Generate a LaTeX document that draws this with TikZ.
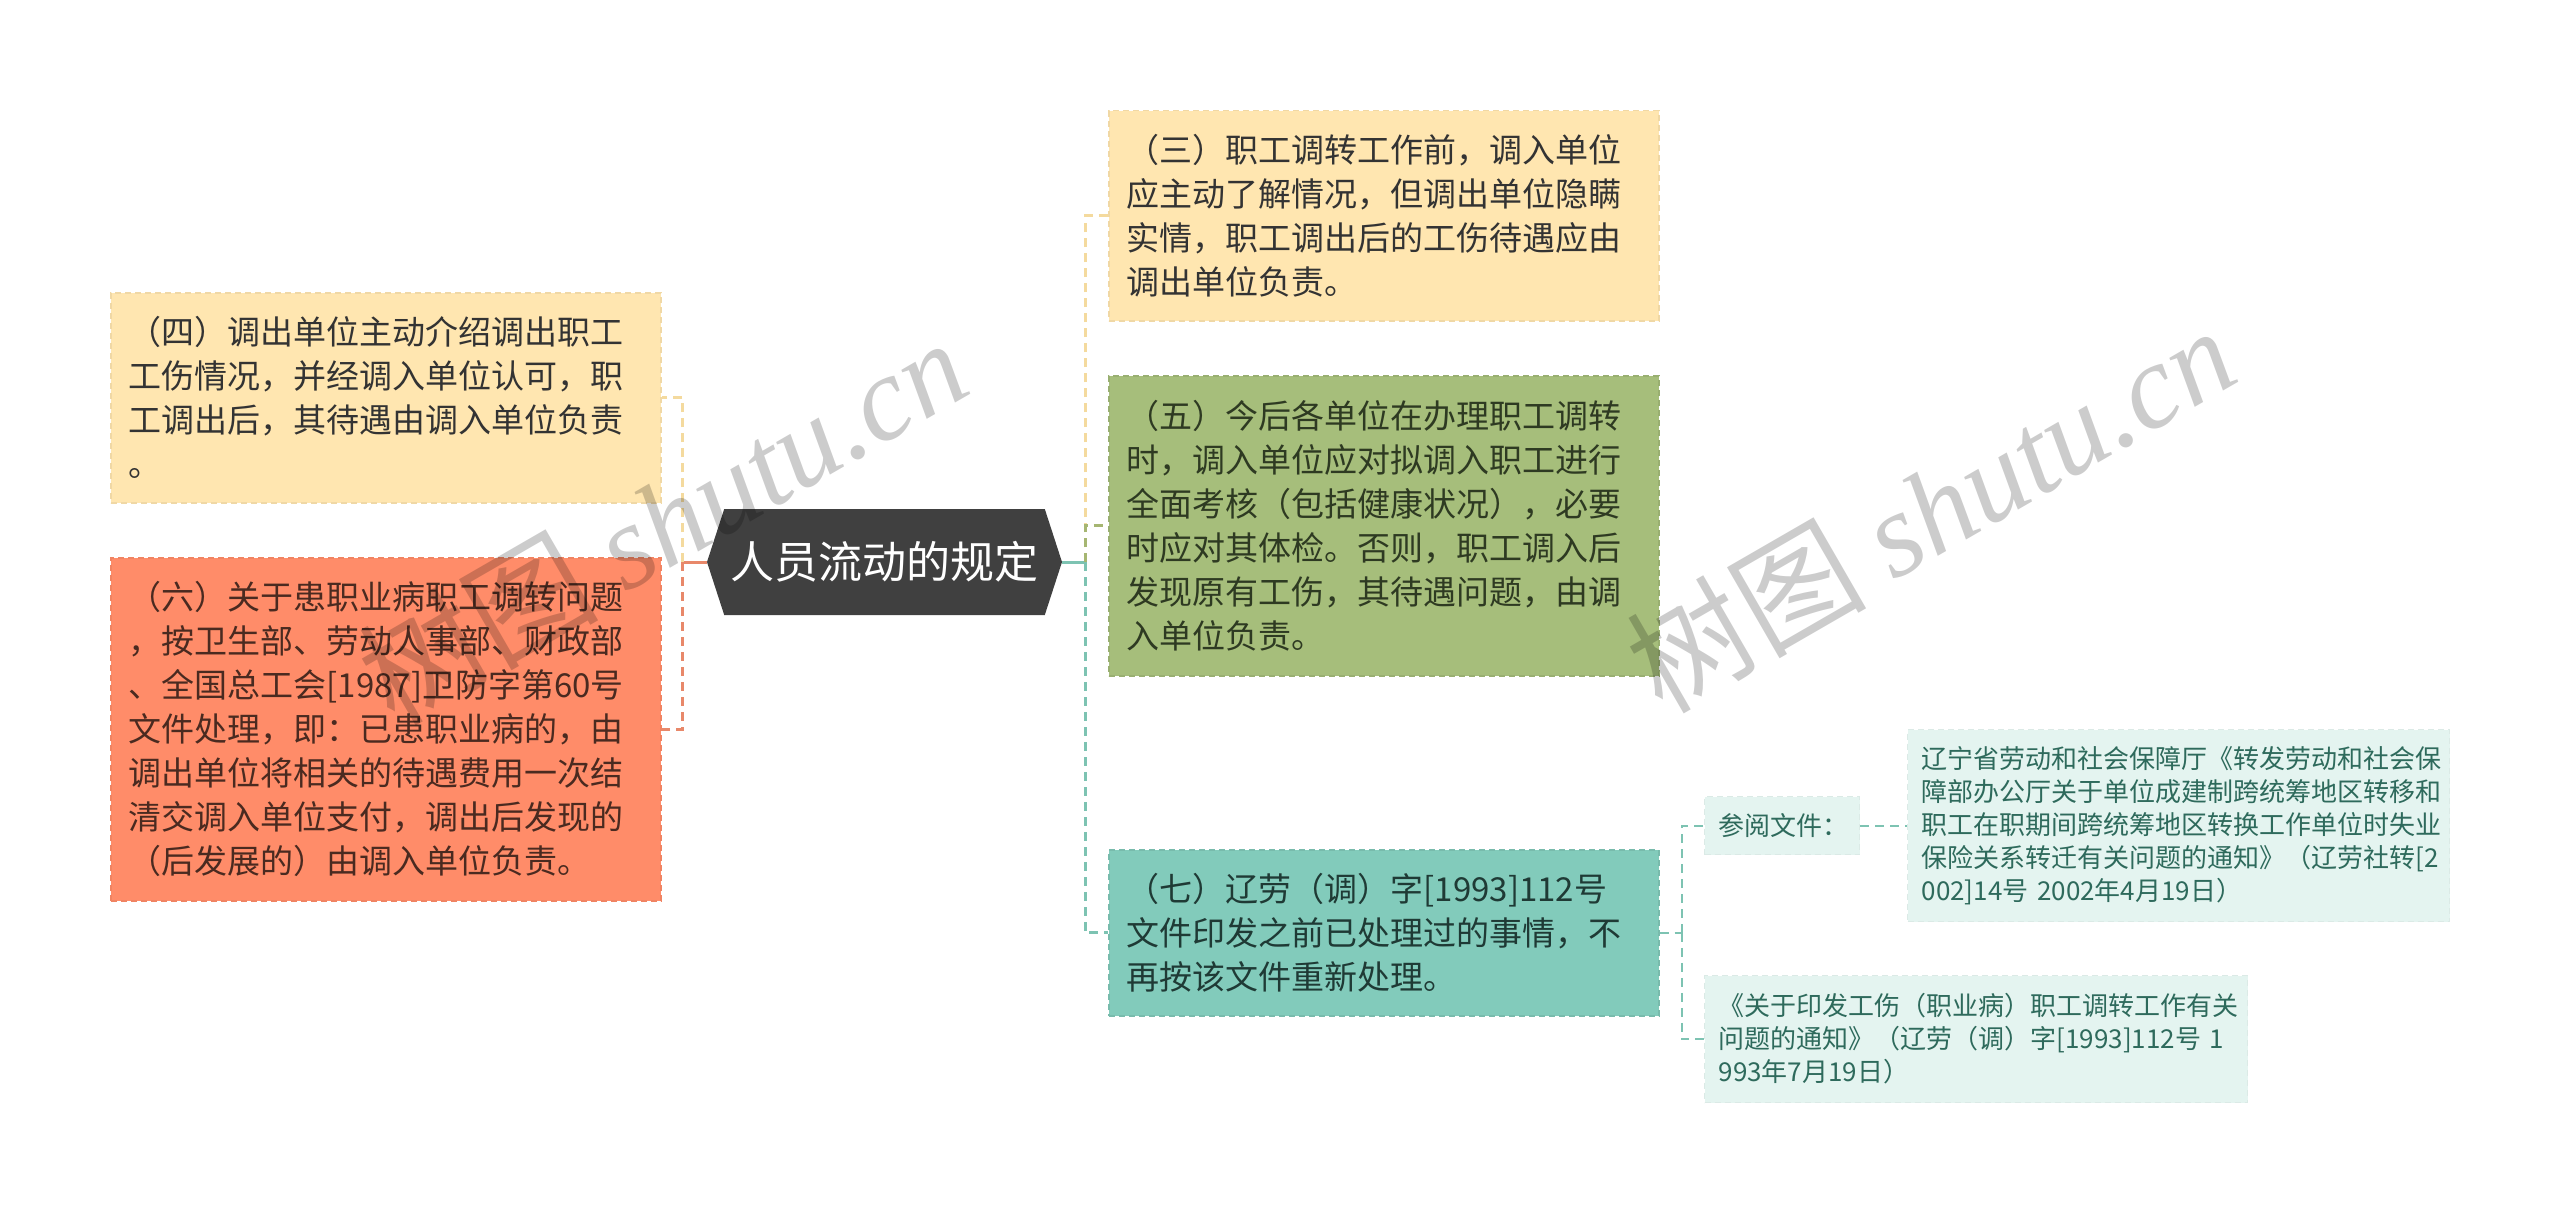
\documentclass[tikz,border=0pt]{standalone}
\usepackage{fontspec}
\setmainfont{Noto Sans CJK SC}
\newfontfamily\wmlatin{Liberation Serif}
\newfontfamily\wmcjk{Noto Sans CJK SC}
\usetikzlibrary{shapes.symbols}
\definecolor{yfill}{HTML}{FFE6B0}
\definecolor{yline}{HTML}{F4DA9E}
\definecolor{ofill}{HTML}{FF8C69}
\definecolor{oline}{HTML}{E8886A}
\definecolor{gfill}{HTML}{A6BE7B}
\definecolor{gline}{HTML}{A6B672}
\definecolor{tfill}{HTML}{82CBBB}
\definecolor{tline}{HTML}{7DC3B2}
\definecolor{rfill}{HTML}{E4F4F0}
\definecolor{rtext}{HTML}{2E6A5C}
\definecolor{cfill}{HTML}{404040}
\definecolor{dtext}{HTML}{333333}
\definecolor{otext}{HTML}{4A2A20}
\definecolor{gtext}{HTML}{2E3A22}
\definecolor{ttext}{HTML}{1F3A35}
\tikzset{
  mainbox/.style={rectangle, anchor=north west, inner xsep=18pt, inner ysep=0pt,
    align=left, text width=514pt, minimum width=550pt,
    font=\fontsize{33}{44}\selectfont, dash pattern=on 6pt off 4pt, line width=1.5pt},
  refbox/.style={rectangle, anchor=north west, inner xsep=14pt, inner ysep=0pt,
    align=left, font=\fontsize{26}{33}\selectfont, text=rtext, fill=rfill,
    draw=rfill!96!black, dash pattern=on 6pt off 4pt, line width=1.2pt},
  conn/.style={line width=3pt, dash pattern=on 9pt off 6pt},
  solidconn/.style={line width=3pt},
  wm/.style={text=black, opacity=0.2, rotate=30, font=\fontsize{120}{120}\selectfont}
}
\begin{document}
\begin{tikzpicture}[x=1pt, y=-1pt]
\useasboundingbox[fill=white] (0,0) rectangle (2560,1212);

% central node
\node[signal, signal to=west and east, signal pointer angle=144, fill=cfill, text=white,
  font=\fontsize{44}{50}\selectfont, minimum width=355pt, minimum height=106pt, inner sep=0pt]
  (c) at (884.5,562) {人员流动的规定};

% main boxes
\node[mainbox, fill=yfill, draw=yfill!94!black, text=dtext, minimum height=210pt] (b3) at (1108,110)
 {（三）职工调转工作前，调入单位\\应主动了解情况，但调出单位隐瞒\\实情，职工调出后的工伤待遇应由\\调出单位负责。};
\node[mainbox, fill=yfill, draw=yfill!94!black, text=dtext, minimum height=210pt] (b4) at (110,292)
 {（四）调出单位主动介绍调出职工\\工伤情况，并经调入单位认可，职\\工调出后，其待遇由调入单位负责\\。};
\node[mainbox, fill=gfill, draw=gfill!92!black, text=gtext, minimum height=300pt] (b5) at (1108,375)
 {（五）今后各单位在办理职工调转\\时，调入单位应对拟调入职工进行\\全面考核（包括健康状况），必要\\时应对其体检。否则，职工调入后\\发现原有工伤，其待遇问题，由调\\入单位负责。};
\node[mainbox, fill=ofill, draw=ofill!94!black, text=otext, minimum height=343pt] (b6) at (110,557)
 {（六）关于患职业病职工调转问题\\，按卫生部、劳动人事部、财政部\\、全国总工会[1987]卫防字第60号\\文件处理，即：已患职业病的，由\\调出单位将相关的待遇费用一次结\\清交调入单位支付，调出后发现的\\（后发展的）由调入单位负责。};
\node[mainbox, fill=tfill, draw=tfill!92!black, text=ttext, minimum height=166pt] (b7) at (1108,849)
 {（七）辽劳（调）字[1993]112号\\文件印发之前已处理过的事情，不\\再按该文件重新处理。};

% reference boxes
\node[refbox, text width=127pt, minimum width=155pt, minimum height=58pt] (cy) at (1704,796)
 {参阅文件：};
\node[refbox, text width=514pt, minimum width=542pt, minimum height=192pt] (r1) at (1907,729)
 {辽宁省劳动和社会保障厅《转发劳动和社会保\\障部办公厅关于单位成建制跨统筹地区转移和\\职工在职期间跨统筹地区转换工作单位时失业\\保险关系转迁有关问题的通知》（辽劳社转[2\\002]14号 2002年4月19日）};
\node[refbox, text width=515pt, minimum width=543pt, minimum height=127pt] (r2) at (1704,975)
 {《关于印发工伤（职业病）职工调转工作有关\\问题的通知》（辽劳（调）字[1993]112号 1\\993年7月19日）};

% connectors left
\draw[solidconn, oline] (c.west) -- ++(-24,0) coordinate (lj);
\draw[conn, yline] (lj) |- (b4.east);
\draw[conn, oline] (lj) |- (b6.east);
% connectors right
\draw[solidconn, tline] (c.east) -- ++(23,0) coordinate (rj);
\draw[conn, yline] (rj) |- (b3.west);
\draw[conn, gline] (rj) |- (b5.west);
\draw[conn, tline] (rj) |- (b7.west);
% connectors from (七)
\draw[conn, line width=2pt, tline] (b7.east) -- ++(22,0) coordinate (sj);
\draw[conn, line width=2pt, tline] (sj) |- (cy.west);
\draw[conn, line width=2pt, tline] (sj) |- (r2.west);
\draw[conn, line width=2pt, tline] (cy.east) -- (r1.west);

% watermarks
\node[wm] (wm1) at (662,520) {\wmcjk 树图 \wmlatin\itshape shutu.cn};
\node[wm] (wm2) at (1930,508) {\wmcjk 树图 \wmlatin\itshape shutu.cn};
\end{tikzpicture}
\end{document}
